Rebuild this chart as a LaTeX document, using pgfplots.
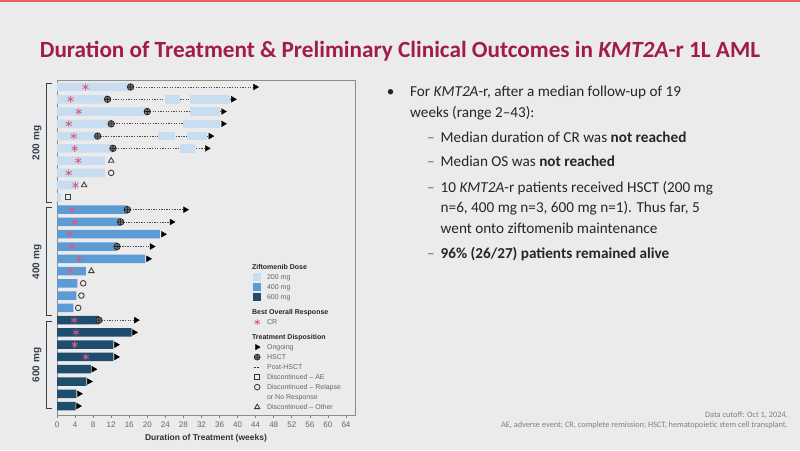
\documentclass[border=0pt]{standalone}
\usepackage{pgfplots}
\pgfplotsset{compat=1.18}
\usepackage{fontspec}
\setmainfont{Carlito}
\newfontfamily\arial{Liberation Sans}
\definecolor{bg}{RGB}{235,235,235}
\definecolor{ttl}{RGB}{162,28,72}
\definecolor{topline}{RGB}{226,96,96}
\definecolor{txt}{RGB}{38,38,38}
\definecolor{cA}{RGB}{200,221,239}
\definecolor{cB}{RGB}{92,155,212}
\definecolor{cC}{RGB}{30,77,110}
\definecolor{crc}{RGB}{222,88,128}
\definecolor{brk}{RGB}{52,64,80}
\newcommand{\LE}[1]{\rule[-2.5pt]{0pt}{10pt}#1}
\newcommand{\LF}[1]{\rule[-2.5pt]{0pt}{10pt}\hspace*{-15pt}\textcolor{black!85}{\bfseries #1}}
\newcommand{\LH}[1]{\rule[-2.5pt]{0pt}{15pt}\hspace*{-15pt}\textcolor{black!85}{\bfseries #1}}
\begin{document}
\begin{tikzpicture}
\fill[bg] (0,0) rectangle (800pt,450pt);
\draw[topline, line width=2pt] (0,449pt) -- (800pt,449pt);
\begin{axis}[
  at={(57pt,35pt)}, anchor=south west,
  scale only axis, width=298pt, height=335pt,
  xmin=0, xmax=66, ymin=0.43, ymax=27.73, y dir=reverse,
  axis line style={draw=black!45, line width=0.9pt},
  xtick={0,4,...,64}, ytick=\empty,
  tick align=outside, xtick pos=bottom, major tick length=3pt,
  tick style={black!50, line width=0.6pt},
  /pgf/number format/assume math mode=true,
  xticklabel style={font=\arial\fontsize{8}{8}\selectfont, text=black!60},
  xlabel={Duration of Treatment (weeks)},
  xlabel style={font=\arial\bfseries\fontsize{8.5}{9}\selectfont, text=black!80},
  legend cell align=left,
  legend image code/.code={\draw[mark repeat=2,mark phase=2,#1] plot coordinates {(0pt,2.5pt) (3.5pt,2.5pt) (7pt,2.5pt)};},
  legend style={at={(0.658,0.457)}, anchor=north west, draw=none, fill=none,
    inner sep=0pt, row sep=0pt, column sep=6pt,
    font=\arial\fontsize{7}{8}\selectfont, text=black!60,
    nodes={inner sep=0pt, text depth={}}, cells={anchor=base west}},
]
% dotted post-HSCT lines
\addplot[forget plot, black!70, line width=0.9pt, dash pattern=on 1.3pt off 1.3pt, unbounded coords=jump] coordinates {
 (16.3,1) (43.4,1) (nan,nan)
 (11.2,2) (38.4,2) (nan,nan)
 (20,3) (36.2,3) (nan,nan)
 (12,4) (36,4) (nan,nan)
 (9,5) (33.4,5) (nan,nan)
 (12.4,6) (32.6,6) (nan,nan)
 (15.6,11) (27.8,11) (nan,nan)
 (14.1,12) (24.8,12) (nan,nan)
 (13.3,14) (20.4,14) (nan,nan)
 (9.3,20) (17,20)};
% maintenance segments (200 mg)
\addplot[forget plot, cA, line width=8.5pt, unbounded coords=jump] coordinates {
 (24,2) (27.3,2) (nan,nan)
 (29.5,2) (38.3,2) (nan,nan)
 (29.5,3) (36.2,3) (nan,nan)
 (28,4) (36,4) (nan,nan)
 (22.4,5) (26.2,5) (nan,nan)
 (28.8,5) (33.2,5) (nan,nan)
 (27.3,6) (30.6,6)};
% main bars
\addplot[forget plot, xbar, bar width=8.5pt, bar shift=0pt, fill=cA, draw=none] coordinates {
 (16.3,1) (11.2,2) (20,3) (12,4) (9,5) (12.4,6) (10.6,7) (10.6,8) (4.8,9) (0.8,10)};
\addplot[forget plot, xbar, bar width=8.5pt, bar shift=0pt, fill=cB, draw=none] coordinates {
 (15.6,11) (14.1,12) (22.8,13) (13.3,14) (19.5,15) (6.4,16) (4.5,17) (4.3,18) (3.6,19)};
\addplot[forget plot, xbar, bar width=8.5pt, bar shift=0pt, fill=cC, draw=none] coordinates {
 (9.3,20) (16.5,21) (12.5,22) (12.5,23) (7.5,24) (6.5,25) (4.3,26) (4.1,27)};
% CR
\addplot[forget plot, only marks, mark=asterisk, mark size=3.4pt, mark options={crc, line width=0.8pt}] coordinates {
 (6.3,1) (3,2) (4.8,3) (2.6,4) (3.7,5) (3.9,6) (4.7,7) (2.6,8) (4.1,9)
 (3.3,11) (3.9,12) (2.8,13) (3.3,14) (5,15) (3,16)
 (3.8,20) (4.2,21) (3.9,22) (6.4,23)};
% HSCT
\addplot[forget plot, only marks, mark=oplus*, mark size=3.3pt, mark options={fill=black!55, draw=black!90, line width=0.6pt}] coordinates {
 (16.3,1) (11.2,2) (20,3) (12,4) (9,5) (12.4,6) (15.6,11) (14.1,12) (13.3,14) (9.3,20)};
% Ongoing
\addplot[forget plot, only marks, mark=triangle*, mark size=3.3pt, mark options={black, rotate=-90}] coordinates {
 (43.9,1) (39,2) (36.8,3) (36.8,4) (34,5) (33.2,6)
 (28.4,11) (25.4,12) (23.5,13) (21,14) (20.2,15)
 (17.5,20) (17.1,21) (13.1,22) (13.1,23) (8.1,24) (7.1,25) (4.9,26) (4.7,27)};
% Discontinued - other
\addplot[forget plot, only marks, mark=triangle, mark size=3.2pt, mark options={draw=black!75, fill=bg, line width=0.9pt}] coordinates {
 (12,7) (6,9) (7.6,16)};
% Discontinued - relapse
\addplot[forget plot, only marks, mark=o, mark size=2.8pt, mark options={draw=black!75, fill=bg, line width=0.9pt}] coordinates {
 (12,8) (5.8,17) (5.4,18) (4.7,19)};
% Discontinued - AE
\addplot[forget plot, only marks, mark=square, mark size=2.5pt, mark options={draw=black!75, fill=bg, line width=0.9pt}] coordinates {
 (2.4,10)};
% legend
\addlegendimage{empty legend}
\addlegendentry{\LF{Ziftomenib Dose}}
\addlegendimage{legend image code/.code={\fill[cA] (0pt,-1pt) rectangle (7pt,6pt);}}
\addlegendentry{\LE{200 mg}}
\addlegendimage{legend image code/.code={\fill[cB] (0pt,-1pt) rectangle (7pt,6pt);}}
\addlegendentry{\LE{400 mg}}
\addlegendimage{legend image code/.code={\fill[cC] (0pt,-1pt) rectangle (7pt,6pt);}}
\addlegendentry{\LE{600 mg}}
\addlegendimage{empty legend}
\addlegendentry{\LH{Best Overall Response}}
\addlegendimage{only marks, mark=asterisk, mark size=3pt, mark options={crc, line width=0.8pt}}
\addlegendentry{\LE{CR}}
\addlegendimage{empty legend}
\addlegendentry{\LH{Treatment Disposition}}
\addlegendimage{only marks, mark=triangle*, mark size=3pt, mark options={black, rotate=-90}}
\addlegendentry{\LE{Ongoing}}
\addlegendimage{only marks, mark=oplus*, mark size=3pt, mark options={fill=black!55, draw=black!90, line width=0.6pt}}
\addlegendentry{\LE{HSCT}}
\addlegendimage{black!80, line width=0.8pt, dash pattern=on 2pt off 1.5pt}
\addlegendentry{\LE{Post-HSCT}}
\addlegendimage{only marks, mark=square, mark size=2.5pt, mark options={draw=black!80, line width=0.8pt}}
\addlegendentry{\LE{Discontinued \textendash{} AE}}
\addlegendimage{only marks, mark=o, mark size=2.8pt, mark options={draw=black!80, line width=0.8pt}}
\addlegendentry{\LE{Discontinued \textendash{} Relapse}}
\addlegendimage{empty legend}
\addlegendentry{\LE{or No Response}}
\addlegendimage{only marks, mark=triangle, mark size=3pt, mark options={draw=black!80, line width=0.8pt}}
\addlegendentry{\LE{Discontinued \textendash{} Other}}
\end{axis}
\begin{scope}[x=1pt,y=1pt]
% brackets
\draw[brk, line width=1pt] (52,366) -- (46.5,366) -- (46.5,247) -- (52,247);
\draw[brk, line width=1pt] (52,242) -- (46.5,242) -- (46.5,134) -- (52,134);
\draw[brk, line width=1pt] (52,129) -- (46.5,129) -- (46.5,42) -- (52,42);
\node[rotate=90, font=\arial\bfseries\fontsize{10}{12}\selectfont, text=brk] at (37,307) {200 mg};
\node[rotate=90, font=\arial\bfseries\fontsize{10}{12}\selectfont, text=brk] at (37,188) {400 mg};
\node[rotate=90, font=\arial\bfseries\fontsize{10}{12}\selectfont, text=brk] at (37,85) {600 mg};
% title
\node[anchor=base, font=\bfseries\fontsize{23.2}{27}\selectfont, text=ttl] at (400,392) {Duration of Treatment \& Preliminary Clinical Outcomes in \textit{KMT2A}-r 1L AML};
% right text
\begin{scope}[every node/.style={anchor=base west, font=\fontsize{15.2}{18}\selectfont, text=txt, inner sep=0pt}]
\node[anchor=base] at (390.7,353.6) {•};
\node at (410,353.6) {For \textit{KMT2A}-r, after a median follow-up of 19};
\node at (410,332) {weeks (range 2--43):};
\node[anchor=base, text=black!60] at (431,307.6) {--};
\node at (440.5,307.6) {Median duration of CR was \textbf{not reached}};
\node[anchor=base, text=black!60] at (431,283) {--};
\node at (440.5,283) {Median OS was \textbf{not reached}};
\node[anchor=base, text=black!60] at (431,257) {--};
\node at (440.5,257) {10 \textit{KMT2A}-r patients received HSCT (200 mg};
\node at (440.5,237) {n=6, 400 mg n=3, 600 mg n=1). Thus far, 5};
\node at (440.5,216) {went onto ziftomenib maintenance};
\node[anchor=base, text=black!60] at (431,191.3) {--};
\node at (440.5,191.3) {\textbf{96\% (26/27) patients remained alive}};
\end{scope}
% footnotes
\node[anchor=base east, font=\fontsize{8.3}{10}\selectfont, text=black!50, inner sep=0pt] at (788,32.5) {Data cutoff: Oct 1, 2024.};
\node[anchor=base east, font=\fontsize{8.3}{10}\selectfont, text=black!50, inner sep=0pt] at (788,22.5) {AE, adverse event; CR, complete remission; HSCT, hematopoietic stem cell transplant.};
\end{scope}
\pgfresetboundingbox
\path[use as bounding box] (0,0) rectangle (800pt,450pt);
\end{tikzpicture}
\end{document}
